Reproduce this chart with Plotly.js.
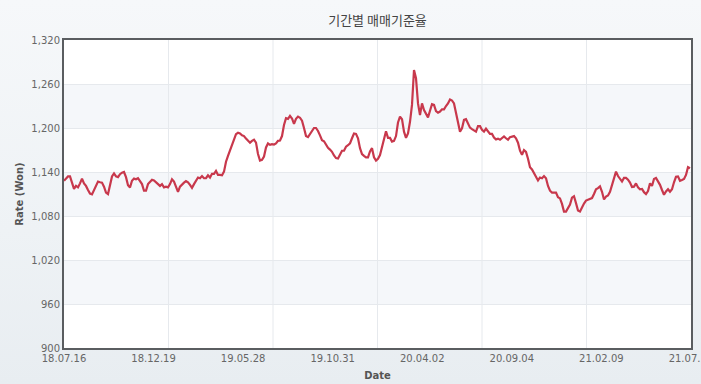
<!DOCTYPE html>
<html>
<head>
<meta charset="utf-8">
<script src="https://cdn.plot.ly/plotly-3.0.1.min.js"></script>
<style>
html,body{margin:0;padding:0;}
body{width:701px;height:384px;background:linear-gradient(to bottom,#f6f8fa 0%,#eef2f5 60%,#e8edf1 100%);overflow:hidden;}
#chart{width:701px;height:384px;}
</style>
</head>
<body>
<div id="chart"></div>
<script>
// Exchange rate samples (equally spaced in trading time)
const rates = [
1128,1131,1134,1134,1124.5,1117,1121,1119,1124.5,1131,1124.5,1121,1115.5,1110.5,1109.5,1115.5,1120,1127,1126,1125.5,1120,1112,1110,1121,1134,1138,1134,1133,1137,1139,1140,1133,1122,1119,1128,1131,1130,1131.5,1128,1123.5,1114.5,1114.5,1123.5,1127,1129.5,1128.5,1126,1123.5,1121,1123.5,1119,1120,1119,1123.5,1130,
1127,1120,1113,1120,1123.5,1125.5,1127.5,1126,1122.5,1118.5,1123.5,1129,1132.5,1131.5,1134.5,1131.5,1131.5,1135.5,1132.5,1137.5,1137.5,1141.5,1136,1136,1135.5,1140.5,1154,1162,1170,1177,1184.5,1191.5,1193.5,1192.5,1190,1189,1185.5,1182.5,1180,1182.5,1184,1180,1164.5,1155.5,1156.5,1161,1173.5,1179,1177,1178,1177.5,1179,1182.5,
1183,1189,1204,1213.5,1212.5,1216.5,1213,1205.5,1212.5,1215.5,1214,1210,1200,1189,1187.5,1192,1196.5,1200,1200,1196,1190,1183.5,1182,1176.5,1173,1170.5,1167.5,1162.5,1159,1158.5,1164.5,1169,1169,1174.5,1176.5,1179,1186,1192.5,1192,1186,1172.5,1164.5,1162,1160,1160,1168,1172.5,1160,1155.5,1158,1163,1173.5,1182,1195.5,
1186.5,1186.5,1181.5,1182.5,1189,1207.5,1215.5,1212,1195,1186.5,1192.5,1208.5,1231.5,1279,1268,1233.5,1217.5,1233.5,1224.5,1218.5,1214.5,1223.5,1232.5,1231.5,1223,1221,1222.5,1225.5,1225.5,1230,1233.5,1239,1237.5,1233.5,1219,1206.5,1195,1199.5,1211,1212,1205.5,1200.5,1198.5,1196.5,1195,1202.5,1202.5,1197.5,1195,1199,1196,1192,1192,
1187,1184.5,1185.5,1184,1186.5,1188.5,1186,1184,1187.5,1188.5,1189,1186,1180,1169,1163.5,1170,1167.5,1158,1146.5,1143.5,1139,1133.5,1128.5,1132.5,1131.5,1134.5,1131.5,1121,1114.5,1112,1112.5,1112,1105.5,1104,1096.5,1086,1086,1091.5,1095.5,1105,1107,1097.5,1087.5,1086,1092,1097,1101,1102.5,1103.5,1104.5,1110,1116.5,1118,1120.5,
1113,1102.5,1106.5,1108,1113,1121.5,1130,1140.5,1134.5,1131.5,1127,1132,1132,1129.5,1125.5,1119.5,1120,1124.5,1119,1116.5,1117,1112.5,1110,1114,1124.5,1121,1130.5,1132,1127.5,1122.5,1115.5,1109,1113.5,1116.5,1113,1116.5,1126,1133.5,1134,1128,1129,1130.5,1136,1146.5,1145
];

// Date tick labels along the x axis
const dateLabels = ["18.07.16","18.12.19","19.05.28","19.10.31","20.04.02","20.09.04","21.02.09","21.07.15"];

// Value axis ticks
const yTicks = [900,960,1020,1080,1140,1200,1260,1320];

const chartTitle = "기간별 매매기준율";
const xTitle = "Date";
const yTitle = "Rate (Won)";

// ---- build ----
const idx = rates.map((_, i) => i);
const xMax = rates.length - 0.5;
const labelSpan = xMax - 0.05;
const labelPos = dateLabels.map((_, k) => k * labelSpan / (dateLabels.length - 1));
const vGridCount = 6;

const shapes = [];
// alternating horizontal bands
for (let k = 0; k + 1 < yTicks.length; k++) {
  if (k % 2 === 1) {
    shapes.push({type:'rect', layer:'below', xref:'paper', yref:'y', x0:0, x1:1,
      y0:yTicks[k], y1:yTicks[k+1], fillcolor:'#f5f7fa', line:{width:0}});
  }
}
// vertical grid lines (independent of labels, as in the reference)
for (let k = 1; k < vGridCount; k++) {
  shapes.push({type:'line', layer:'below', xref:'paper', yref:'paper', x0:k/vGridCount, x1:k/vGridCount,
    y0:0, y1:1, line:{color:'#e6e9ed', width:1}});
}

const trace = {
  x: idx, y: rates, type:'scatter', mode:'lines',
  line:{color:'#c8384c', width:2.2},
  hoverinfo:'skip'
};

const tickFont = {family:'DejaVu Sans, Verdana, sans-serif', size:10, color:'#666'};

const layout = {
  width:701, height:384,
  margin:{l:64, r:10, t:40, b:36, pad:0},
  paper_bgcolor:'rgba(0,0,0,0)',
  plot_bgcolor:'#ffffff',
  showlegend:false,
  title:{text:chartTitle, font:{family:'Noto Sans CJK KR, sans-serif', size:13, color:'#444'},
    xref:'paper', x:0.5, xanchor:'center', yref:'container', y:1-20/384, yanchor:'middle'},
  xaxis:{range:[0, xMax], tickvals:labelPos, ticktext:dateLabels, showgrid:false, zeroline:false,
    ticks:'', tickfont:tickFont, showline:true, mirror:true, linecolor:'#5a5d60', linewidth:2,
    ticklabeloverflow:'allow',
    title:{text:'<b>'+xTitle+'</b>', font:{family:'DejaVu Sans, sans-serif', size:10, color:'#555'}, standoff:9},
    fixedrange:true},
  yaxis:{range:[yTicks[0], yTicks[yTicks.length-1]], tickvals:yTicks,
    ticktext:yTicks.map(v => v.toLocaleString('en-US')), showgrid:true, gridcolor:'#e6e9ed', gridwidth:1,
    zeroline:false, ticks:'', tickfont:tickFont, showline:true, mirror:true, linecolor:'#5a5d60', linewidth:2,
    title:{text:'<b>'+yTitle+'</b>', font:{family:'DejaVu Sans, sans-serif', size:10, color:'#555'}, standoff:6},
    fixedrange:true},
  shapes:shapes
};

Plotly.newPlot('chart', [trace], layout, {displayModeBar:false, staticPlot:true});
</script>
</body>
</html>
